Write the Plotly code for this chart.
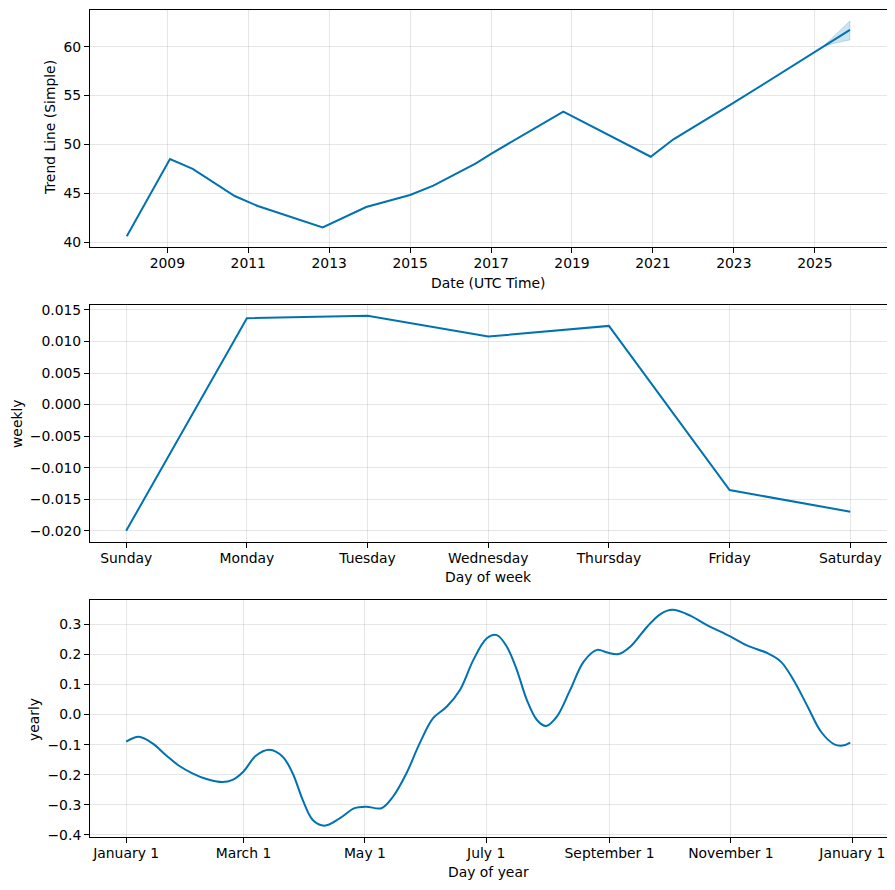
import datetime as _dt
import plotly.graph_objects as go

# ---- Trend data ----
trend_dates = ["2008-01-01", "2009-01-25", "2009-08-18", "2010-09-01", "2011-03-28",
               "2012-11-03", "2013-12-01", "2015-01-01", "2015-07-30", "2016-08-17",
               "2017-01-08", "2018-10-15", "2020-12-12", "2021-07-05", "2023-01-01",
               "2025-01-01", "2025-11-14"]
trend_values = [40.61, 48.52, 47.5, 44.73, 43.71, 41.53, 43.61, 44.84, 45.79, 48.08,
                49.1, 53.35, 48.75, 50.53, 54.27, 59.49, 61.71]
band_dates = ["2025-03-15", "2025-07-15", "2025-11-14"]
band_upper = [60.0, 61.3, 62.63]
band_lower = [60.0, 60.4, 60.69]
trend_tick_years = ["2009", "2011", "2013", "2015", "2017", "2019", "2021", "2023", "2025"]

# ---- Weekly data ----
weekdays = ["Sunday", "Monday", "Tuesday", "Wednesday", "Thursday", "Friday", "Saturday"]
weekly_values = [-0.0200, 0.01369, 0.0141, 0.01078, 0.01247, -0.01356, -0.01699]
weekly_ticks = [0.015, 0.010, 0.005, 0.0, -0.005, -0.010, -0.015, -0.020]

# ---- Yearly data (day of year, value) ----
yearly_days = [0, 6.4, 13.1, 19.9, 26.6, 33.3, 40, 48.4, 53.5, 59, 65.2, 72, 78.7, 83.7,
               88.8, 93.8, 99.7, 107.3, 114.8, 120.7, 128.3, 134.1, 140.9, 147.6, 154.3,
               161.1, 167.8, 174.5, 181.2, 186.3, 191.3, 196.4, 201.4, 206.5, 211.1,
               216.5, 223.2, 230, 236.7, 241.8, 247.6, 253.5, 261.9, 268.6, 274.5,
               283.8, 291.3, 303.9, 312.3, 322.4, 329.1, 335.9, 342.6, 349.3, 356,
               360.2, 364]
yearly_values = [-0.090, -0.074, -0.095, -0.134, -0.170, -0.195, -0.213, -0.224, -0.217,
                 -0.189, -0.137, -0.117, -0.140, -0.195, -0.284, -0.350, -0.369, -0.345,
                 -0.311, -0.306, -0.311, -0.273, -0.195, -0.095, -0.012, 0.026, 0.082,
                 0.181, 0.253, 0.264, 0.226, 0.148, 0.049, -0.018, -0.038, -0.007, 0.082,
                 0.176, 0.215, 0.206, 0.201, 0.226, 0.292, 0.334, 0.348, 0.328, 0.300,
                 0.259, 0.229, 0.204, 0.176, 0.110, 0.026, -0.057, -0.099, -0.103, -0.093]
yearly_tick_dates = ["2017-01-01", "2017-03-01", "2017-05-01", "2017-07-01",
                     "2017-09-01", "2017-11-01", "2018-01-01"]
yearly_tick_labels = ["January 1", "March 1", "May 1", "July 1", "September 1",
                      "November 1", "January 1"]
yearly_ticks = [0.3, 0.2, 0.1, 0.0, -0.1, -0.2, -0.3, -0.4]

base = _dt.datetime(2017, 1, 1)
yearly_dates = [(base + _dt.timedelta(days=d)).isoformat() for d in yearly_days]

BLUE = "#0072B2"
FONT = dict(family="DejaVu Sans", size=13.9, color="black")
GRID = "rgba(128,128,128,0.2)"


def fmt(v, nd):
    return f"{v:.{nd}f}".replace("-", "\u2212")


fig = go.Figure()

# Trend panel
fig.add_trace(go.Scatter(x=band_dates + band_dates[::-1], y=band_upper + band_lower[::-1],
                         mode="lines", fill="toself", fillcolor="rgba(0,114,178,0.2)",
                         line=dict(width=0.8, color="rgba(0,114,178,0.25)"),
                         xaxis="x", yaxis="y", hoverinfo="skip", showlegend=False))
fig.add_trace(go.Scatter(x=trend_dates, y=trend_values, mode="lines",
                         line=dict(color=BLUE, width=2), xaxis="x", yaxis="y",
                         showlegend=False))

# Weekly panel
fig.add_trace(go.Scatter(x=list(range(len(weekdays))), y=weekly_values, mode="lines",
                         line=dict(color=BLUE, width=2), xaxis="x2", yaxis="y2",
                         showlegend=False))

# Yearly panel
fig.add_trace(go.Scatter(x=yearly_dates, y=yearly_values, mode="lines",
                         line=dict(color=BLUE, width=2, shape="spline", smoothing=1.0),
                         xaxis="x3", yaxis="y3", showlegend=False))

# page has an 8px body margin
OFF = 8
W, H = 887, 882


def px_x(p):
    return (p - OFF) / W


def px_y(p):
    return 1 - (p - OFF) / H


xd = [px_x(90), px_x(886.5)]


def ydom(top, bottom):
    return [px_y(bottom), px_y(top)]


common = dict(showline=True, linecolor="black", linewidth=1, mirror=True,
              ticks="outside", ticklen=5, tickwidth=1, tickcolor="black",
              showgrid=True, gridcolor=GRID, gridwidth=1, zeroline=False,
              tickfont=FONT, automargin=False)
xcommon = dict(common, ticklabelstandoff=-2)

fig.update_layout(
    width=W, height=H,
    margin=dict(l=0, r=0, t=0, b=0),
    paper_bgcolor="white", plot_bgcolor="white",
    showlegend=False,
    xaxis=dict(domain=xd, anchor="y", type="date",
               range=["2007-02-03", "2026-10-10"],
               tickvals=[f"{y}-01-01" for y in trend_tick_years],
               ticktext=trend_tick_years, **xcommon),
    yaxis=dict(domain=ydom(10, 247.3), anchor="x", range=[39.49, 63.75],
               tickvals=[40, 45, 50, 55, 60], ticktext=["40", "45", "50", "55", "60"],
               **common),
    xaxis2=dict(domain=xd, anchor="y2", range=[-0.3, 6.3],
                tickvals=list(range(7)), ticktext=weekdays, **xcommon),
    yaxis2=dict(domain=ydom(305.3, 542.3), anchor="x2", range=[-0.02184, 0.01574],
                tickvals=weekly_ticks, ticktext=[fmt(v, 3) for v in weekly_ticks],
                **common),
    xaxis3=dict(domain=xd, anchor="y3", type="date",
                range=["2016-12-13 20:00", "2018-01-18 05:00"],
                tickvals=yearly_tick_dates, ticktext=yearly_tick_labels, **xcommon),
    yaxis3=dict(domain=ydom(600.3, 837.3), anchor="x3", range=[-0.4077, 0.3797],
                tickvals=yearly_ticks, ticktext=[fmt(v, 1) for v in yearly_ticks],
                **common),
)

annots = [
    dict(text="Date (UTC Time)", x=488, y=283, rot=0),
    dict(text="Day of week", x=488, y=577, rot=0),
    dict(text="Day of year", x=488, y=872, rot=0),
    dict(text="Trend Line (Simple)", x=50, y=128, rot=-90),
    dict(text="weekly", x=17, y=424, rot=-90),
    dict(text="yearly", x=34, y=720, rot=-90),
]
for a in annots:
    fig.add_annotation(text=a["text"], x=px_x(a["x"]), y=px_y(a["y"]),
                       xref="paper", yref="paper", showarrow=False,
                       xanchor="center", yanchor="middle", textangle=a["rot"],
                       font=FONT)

fig.write_html("out.html")
